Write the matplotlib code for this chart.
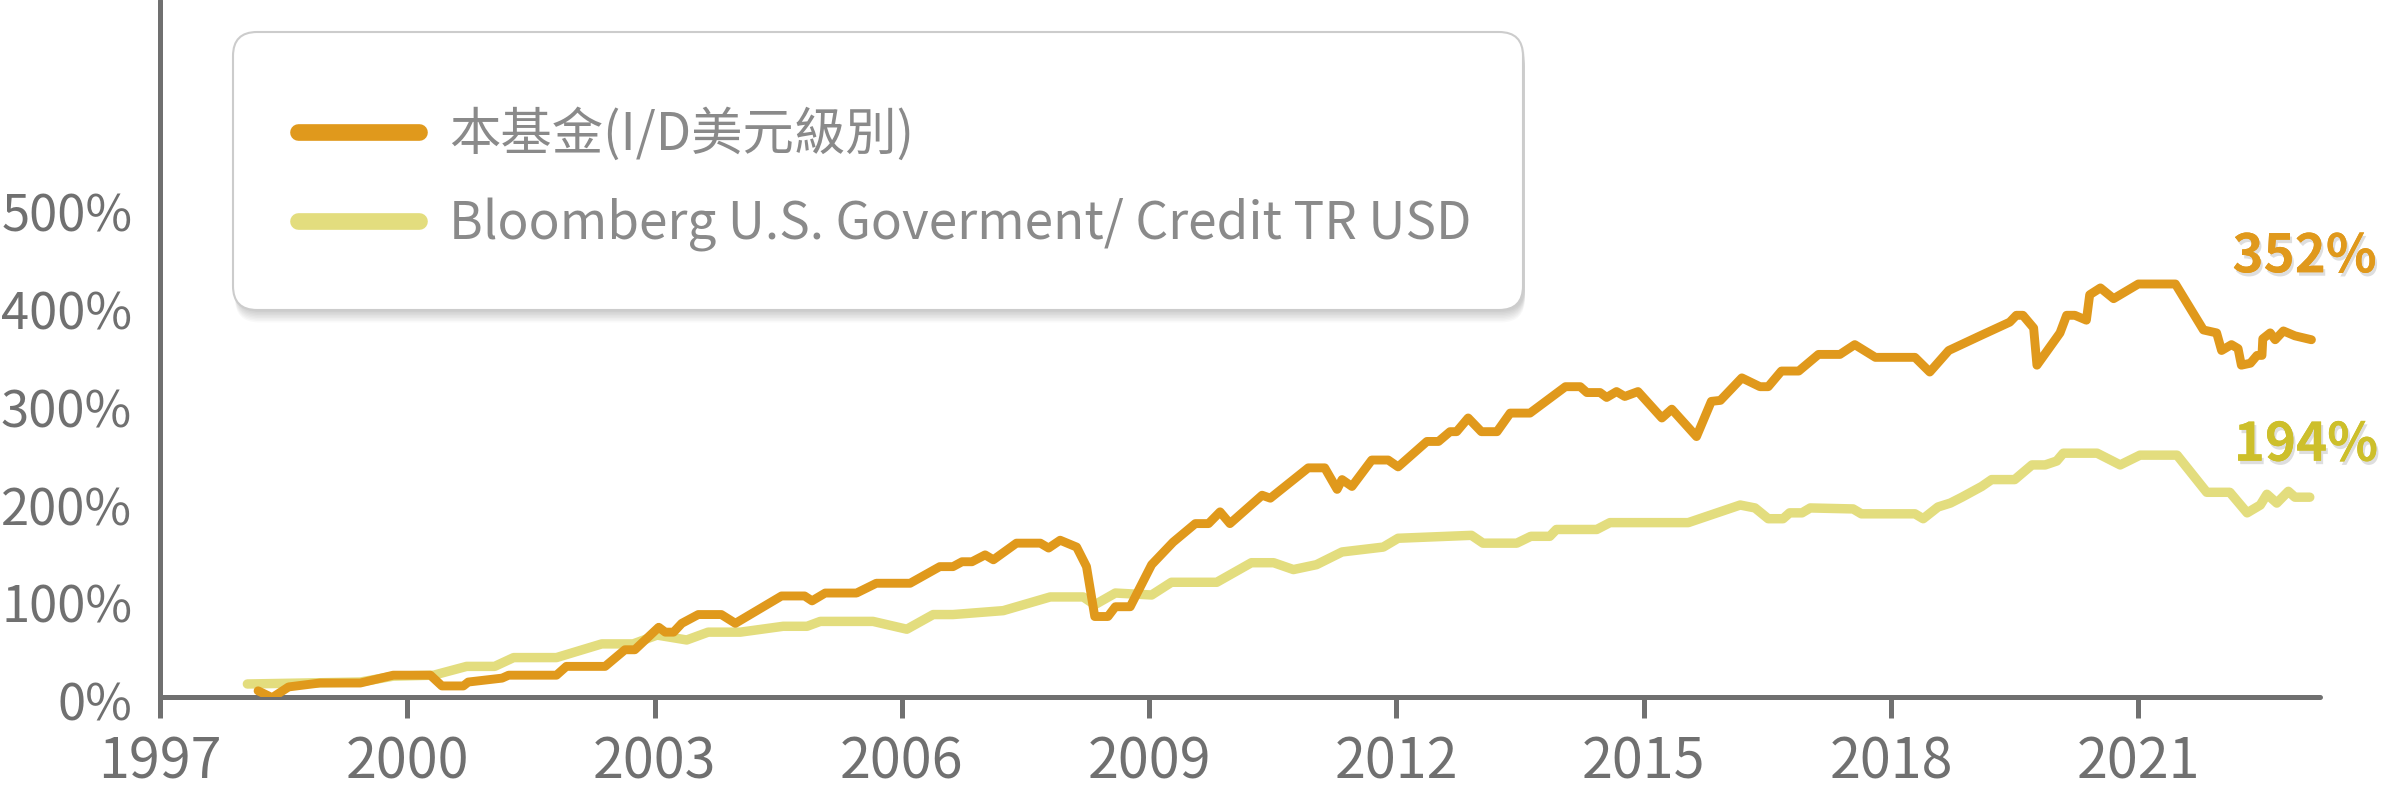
import matplotlib
matplotlib.use("Agg")
import matplotlib.pyplot as plt
import matplotlib.patheffects as pe
from matplotlib.patches import FancyBboxPatch
from matplotlib.lines import Line2D
from matplotlib.transforms import IdentityTransform, ScaledTranslation

plt.rcParams["font.family"] = ["Noto Sans CJK TC", "DejaVu Sans"]

# cumulative return (%)
fund_years = [1998.19, 1998.36, 1998.56, 1998.94, 1999.43, 1999.83, 2000.28, 2000.42, 2000.68, 2000.74,
              2001.15, 2001.23, 2001.81, 2001.93, 2002.40, 2002.64, 2002.76, 2003.05, 2003.13, 2003.23,
              2003.33, 2003.53, 2003.81, 2003.98, 2004.54, 2004.82, 2004.91, 2005.07, 2005.45, 2005.69,
              2006.10, 2006.46, 2006.62, 2006.73, 2006.85, 2007.01, 2007.11, 2007.39, 2007.68, 2007.78,
              2007.92, 2008.12, 2008.24, 2008.34, 2008.50, 2008.59, 2008.77, 2009.03, 2009.29, 2009.56,
              2009.72, 2009.86, 2009.98, 2010.37, 2010.47, 2010.93, 2011.13, 2011.28, 2011.34, 2011.46,
              2011.70, 2011.90, 2012.02, 2012.37, 2012.51, 2012.65, 2012.73, 2012.87, 2013.03, 2013.22,
              2013.38, 2013.62, 2014.05, 2014.23, 2014.31, 2014.47, 2014.55, 2014.67, 2014.77, 2014.93,
              2015.22, 2015.34, 2015.64, 2015.82, 2015.93, 2016.19, 2016.41, 2016.51, 2016.67, 2016.88,
              2017.12, 2017.38, 2017.56, 2017.81, 2018.29, 2018.47, 2018.70, 2019.08, 2019.44, 2019.52,
              2019.60, 2019.73, 2019.77, 2020.05, 2020.13, 2020.23, 2020.37, 2020.41, 2020.54, 2020.70,
              2021.00, 2021.45, 2021.79, 2021.95, 2022.01, 2022.13, 2022.21, 2022.25, 2022.36, 2022.44,
              2022.50, 2022.51, 2022.60, 2022.66, 2022.76, 2022.90, 2023.10]
fund_values = [6, -1, 10, 14, 14, 22, 22, 11, 11, 15,
               19, 22, 22, 31, 31, 48, 48, 71, 66, 66,
               75, 84, 84, 75, 103, 103, 98, 106, 106, 116,
               116, 133, 133, 138, 138, 145, 140, 157, 157, 152,
               160, 153, 133, 82, 82, 92, 92, 135, 158, 177,
               177, 189, 177, 206, 203, 234, 234, 212, 222, 215,
               242, 242, 235, 261, 261, 271, 271, 285, 271, 271,
               290, 290, 317, 317, 311, 311, 306, 312, 307, 312,
               285, 294, 266, 302, 303, 326, 317, 317, 333, 333,
               350, 350, 360, 347, 347, 332, 354, 369, 383, 390,
               390, 377, 339, 372, 390, 390, 385, 411, 418, 407,
               422, 422, 375, 372, 354, 360, 356, 339, 341, 349,
               349, 366, 372, 365, 374, 369, 365]

bench_years = [1998.06, 1999.43, 1999.83, 2000.32, 2000.72, 2001.06, 2001.29, 2001.81, 2002.36, 2002.74,
               2003.03, 2003.39, 2003.65, 2004.04, 2004.56, 2004.85, 2005.01, 2005.65, 2006.06, 2006.38,
               2006.62, 2007.23, 2007.80, 2008.20, 2008.34, 2008.59, 2009.03, 2009.27, 2009.82, 2010.24,
               2010.51, 2010.75, 2011.03, 2011.34, 2011.84, 2012.02, 2012.91, 2013.05, 2013.46, 2013.63,
               2013.86, 2013.94, 2014.43, 2014.59, 2015.54, 2016.17, 2016.35, 2016.51, 2016.69, 2016.77,
               2016.92, 2017.02, 2017.54, 2017.64, 2018.29, 2018.39, 2018.57, 2018.72, 2018.86, 2019.10,
               2019.22, 2019.50, 2019.71, 2019.87, 2020.01, 2020.09, 2020.50, 2020.78, 2021.02, 2021.47,
               2021.83, 2022.11, 2022.32, 2022.48, 2022.56, 2022.68, 2022.82, 2022.90, 2023.08]
bench_values = [13, 15, 21, 22, 31, 31, 40, 40, 54, 54,
                63, 58, 66, 66, 72, 72, 77, 77, 69, 84,
                84, 88, 102, 102, 94, 106, 104, 117, 117, 137,
                137, 130, 135, 148, 153, 162, 165, 157, 157, 164,
                164, 171, 171, 178, 178, 196, 193, 182, 182, 188,
                188, 193, 192, 187, 187, 182, 194, 198, 204, 215,
                222, 222, 237, 237, 241, 249, 249, 237, 247, 247,
                209, 209, 188, 196, 207, 198, 210, 204, 204]

fund_label = "本基金(I/D美元級別)"
bench_label = "Bloomberg U.S. Goverment/ Credit TR USD"
final_returns = [352, 194]  # labels shown at the end of the lines
year_ticks = [1997, 2000, 2003, 2006, 2009, 2012, 2015, 2018, 2021]
pct_ticks = [0, 100, 200, 300, 400, 500]

orange = "#E0991C"
yellow = "#E3DD7E"
label_yellow = "#CDBF2B"
axis_grey = "#707070"

W, H = 2386, 789
fig = plt.figure(figsize=(W / 100, H / 100), dpi=100)
ax = fig.add_axes([160 / W, 92.3 / H, 2160 / W, 696.7 / H])
ax.patch.set_alpha(0)

ax.plot(bench_years, bench_values, color=yellow, lw=6.8, solid_capstyle="round", solid_joinstyle="round", zorder=3)
ax.plot(fund_years, fund_values, color=orange, lw=6.4, solid_capstyle="round", solid_joinstyle="round", zorder=4)

ax.set_xlim(1997, 2023.204)
ax.set_ylim(0, 712.4)

for s in ["top", "right"]:
    ax.spines[s].set_visible(False)
for s in ["left", "bottom"]:
    ax.spines[s].set_color(axis_grey)
    ax.spines[s].set_linewidth(3.6)
    ax.spines[s].set_capstyle("round")

ax.set_xticks(year_ticks)
ax.set_xticklabels([str(y) for y in year_ticks])
ax.set_yticks(pct_ticks)
ax.set_yticklabels([f"{p}%" for p in pct_ticks])
ax.tick_params(axis="x", length=15, width=3.6, color=axis_grey, labelsize=40, labelcolor=axis_grey, pad=12)
ax.tick_params(axis="y", length=0, labelsize=36.5, labelcolor=axis_grey, pad=20)
shift_down = ScaledTranslation(0, -4 / 100, fig.dpi_scale_trans)
for lbl in ax.get_yticklabels():
    lbl.set_transform(lbl.get_transform() + shift_down)

# end labels
shadow = [pe.withSimplePatchShadow(offset=(1.5, -2.5), shadow_rgbFace="#000000", alpha=0.13), pe.Normal()]
ax.annotate(f"{final_returns[0]}%", xy=(fund_years[-1], fund_values[-1]), xytext=(-79, 83),
            textcoords="offset pixels", ha="left", va="center", fontsize=38, fontweight="bold",
            color=orange, path_effects=shadow, zorder=6)
ax.annotate(f"{final_returns[1]}%", xy=(bench_years[-1], bench_values[-1]), xytext=(-76, 52),
            textcoords="offset pixels", ha="left", va="center", fontsize=38, fontweight="bold",
            color=label_yellow, path_effects=shadow, zorder=6)

# legend box with soft shadow (pixel coords, origin bottom-left), kept below the axes
bx, by, bw, bh = 233, H - 310, 1290, 278
for i in range(8):
    g = FancyBboxPatch((bx + 2, by - 2 - i * 1.5), bw, bh, boxstyle="round,pad=0,rounding_size=24",
                       transform=IdentityTransform(), facecolor="#000000", edgecolor="none",
                       alpha=0.025, zorder=-3)
    fig.patches.append(g)
box = FancyBboxPatch((bx, by), bw, bh, boxstyle="round,pad=0,rounding_size=24",
                     transform=IdentityTransform(), facecolor="white", edgecolor="#CCCCCC",
                     linewidth=1.5, zorder=-2)
fig.patches.append(box)

handles = [Line2D([], [], color=orange, lw=12, solid_capstyle="round"),
           Line2D([], [], color=yellow, lw=12, solid_capstyle="round")]
leg = ax.legend(handles, [fund_label, bench_label], loc="upper left",
                bbox_to_anchor=(298 / W, (H - 108) / H), bbox_transform=fig.transFigure,
                frameon=False, fontsize=37, handlelength=2.35, handletextpad=0.59,
                labelspacing=0.70, borderpad=0, borderaxespad=0)
for t in leg.get_texts():
    t.set_color("#8A8A8A")
leg.set_zorder(10)

fig.savefig("out.png", dpi=100)
